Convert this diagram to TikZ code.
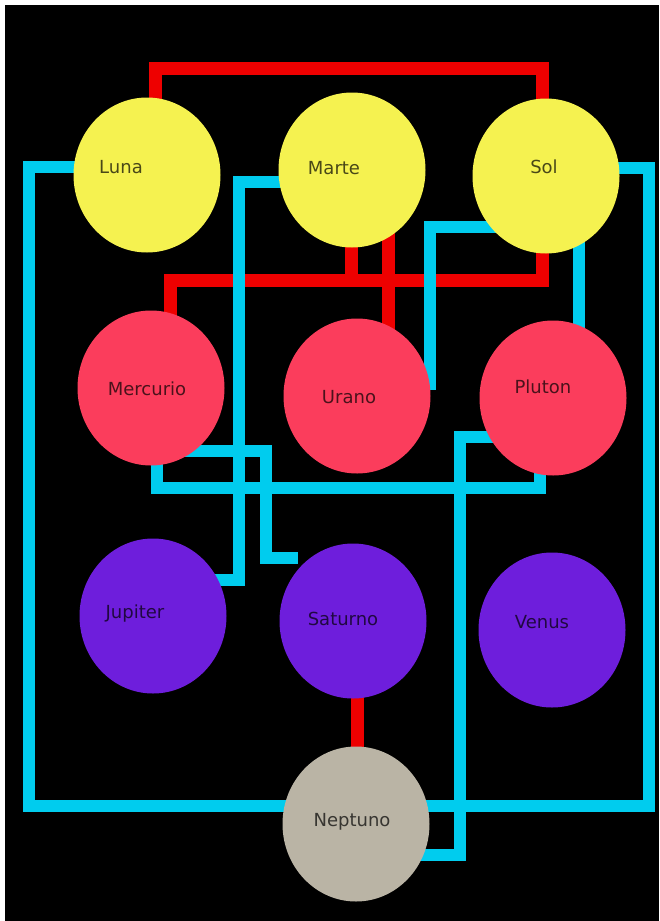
\documentclass[tikz,border=0pt]{standalone}
\usepackage{fontspec}
\setsansfont{DejaVu Sans}
\usetikzlibrary{shapes.geometric,calc}
\pgfdeclarelayer{back}
\pgfdeclarelayer{links}
\pgfsetlayers{back,links,main}
\definecolor{sunyellow}{HTML}{F5F250}
\definecolor{innerred}{HTML}{FB3D5C}
\definecolor{outerviolet}{HTML}{6E1EDC}
\definecolor{neptungray}{HTML}{BAB4A5}
\definecolor{linkred}{HTML}{EE0000}
\definecolor{linkblue}{HTML}{00CCEE}
\begin{document}
\begin{tikzpicture}
		[x=1pt,y=-1pt,
		planet/.style={ellipse,fill=#1,minimum width=147,minimum height=155,inner sep=0pt},
		planetname/.style={font=\sffamily\fontsize{18}{20}\selectfont,
			text=black,text opacity=.7,inner sep=0pt,text depth=0pt},
		redlink/.style={draw=linkred,line width=13},
		bluelink/.style={draw=linkblue,line width=12}]
		\useasboundingbox (0,0) rectangle (659,921);
		\begin{pgfonlayer}{back}
			\fill[white] (0,0) rectangle (659,921);
			\fill[black] (5,5) rectangle (659,921);
		\end{pgfonlayer}
		\node[planet=sunyellow,label={[planetname,shift={(-26,-8)}]center:Luna}] (Luna) at (147,175) {};
		\node[planet=sunyellow,label={[planetname,shift={(-18,-2)}]center:Marte}] (Marte) at (352,170) {};
		\node[planet=sunyellow,label={[planetname,shift={(-2,-9)}]center:Sol}] (Sol) at (546,176) {};
		\node[planet=innerred,label={[planetname,shift={(-4,1)}]center:Mercurio}] (Mercurio) at (151,388) {};
		\node[planet=innerred,label={[planetname,shift={(-8,1)}]center:Urano}] (Urano) at (357,396) {};
		\node[planet=innerred,label={[planetname,shift={(-10,-11)}]center:Pluton}] (Pluton) at (553,398) {};
		\node[planet=outerviolet,label={[planetname,shift={(-18,-4)}]center:Jupiter}] (Jupiter) at (153,616) {};
		\node[planet=outerviolet,label={[planetname,shift={(-10,-2)}]center:Saturno}] (Saturno) at (353,621) {};
		\node[planet=outerviolet,label={[planetname,shift={(-10,-8)}]center:Venus}] (Venus) at (552,630) {};
		\node[planet=neptungray,label={[planetname,shift={(-4,-4)}]center:Neptuno}] (Neptuno) at (356,824) {};
		\begin{pgfonlayer}{links}
			\draw[redlink] ($(Luna.center)+(8,0)$) |- ($(Sol.center)+(-4,-108)$) -- ($(Sol.center)+(-4,0)$);
			\draw[redlink] ($(Mercurio.center)+(19,0)$) |- ($(Sol.center)+(-4,104)$) -- ($(Sol.center)+(-4,0)$);
			\draw[redlink] ($(Marte.center)+(-1,0)$) -- ++(0,110);
			\draw[redlink] ($(Marte.center)+(36,0)$) -- ($(Urano.center)+(31,0)$);
			\draw[redlink] ($(Saturno.center)+(4,0)$) -- ($(Neptuno.center)+(1,0)$);
			\draw[bluelink] ($(Luna.center)+(0,-8)$) -| ($(Neptuno.center)+(-327,-18)$) -- ($(Neptuno.center)+(0,-18)$);
			\draw[bluelink] ($(Sol.center)+(0,-8)$) -| ($(Neptuno.center)+(293,-18)$) -- ($(Neptuno.center)+(0,-18)$);
			\draw[bluelink] ($(Marte.center)+(0,12)$) -| ($(Jupiter.center)+(86,-36)$) -- ($(Jupiter.center)+(0,-36)$);
			\draw[bluelink] ($(Sol.center)+(0,51)$) -| ($(Urano.center)+(73,-6)$);
			\draw[bluelink] ($(Sol.center)+(33,0)$) -- ($(Pluton.center)+(26,0)$);
			\draw[bluelink] ($(Mercurio.center)+(6,0)$) |- ($(Pluton.center)+(-13,90)$) -- ($(Pluton.center)+(-13,0)$);
			\draw[bluelink] ($(Mercurio.center)+(0,63)$) -| ($(Saturno.center)+(-87,-63)$) -- ($(Saturno.center)+(-55,-63)$);
			\draw[bluelink] ($(Pluton.center)+(0,39)$) -| ($(Neptuno.center)+(104,31)$) -- ($(Neptuno.center)+(0,31)$);
		\end{pgfonlayer}
	\end{tikzpicture}
\end{document}
